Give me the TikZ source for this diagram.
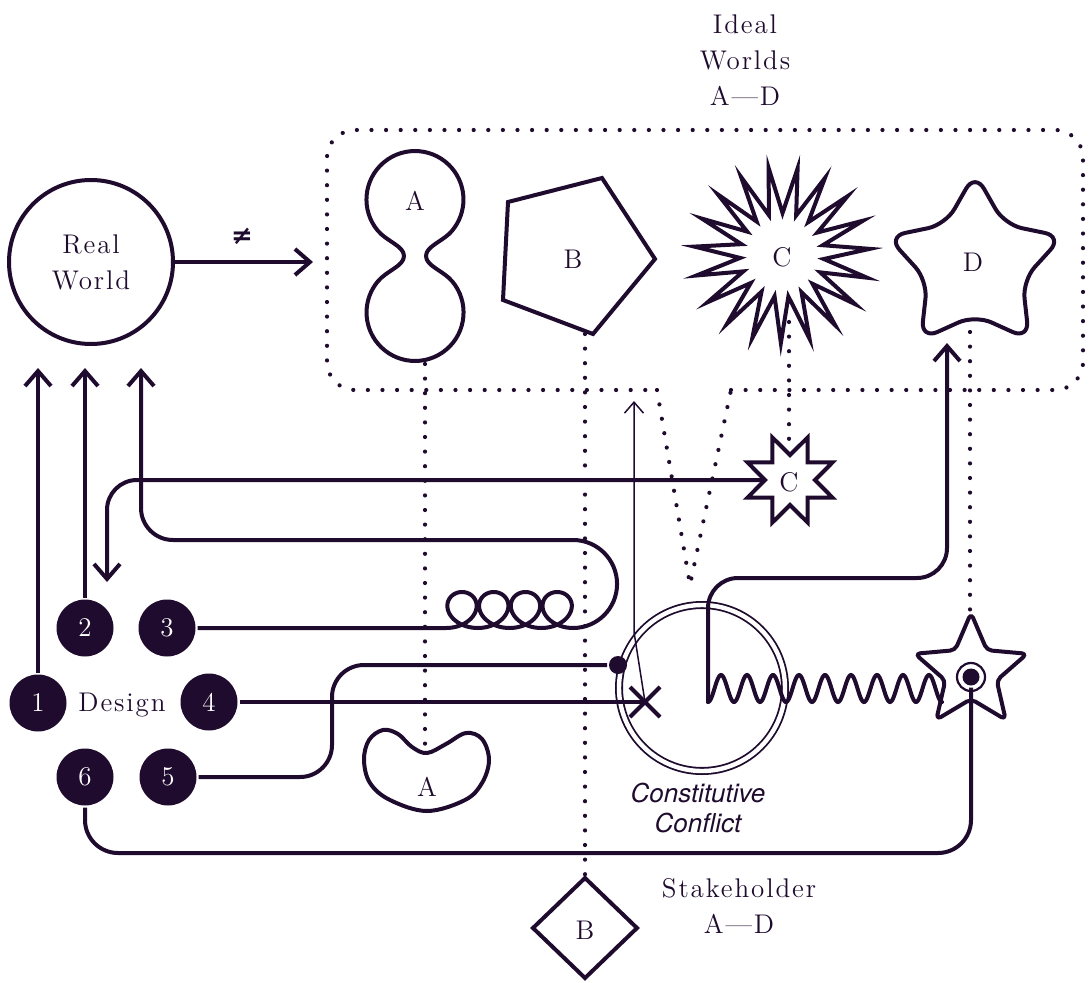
\documentclass[tikz,border=0pt]{standalone}
\usepackage{fontspec}
\usetikzlibrary{arrows.meta}
\definecolor{ink}{HTML}{1E0B2D}
\newfontfamily\herosfont{TeX Gyre Heros}
\newfontfamily\symbfont{DejaVu Sans}
\newfontfamily\spacedfont{lmroman12-regular.otf}[LetterSpace=7]
\newfontfamily\plainfont{lmroman12-regular.otf}
\newcommand\wordfont{\spacedfont\fontsize{27}{36}\selectfont}
\newcommand\letterfont{\plainfont\fontsize{27}{36}\selectfont}
\begin{document}
\begin{tikzpicture}[x=1pt, y=-1pt, line width=4pt, ink,
  barb/.style={-{Straight Barb[length=15pt,width=26pt]}},
  thinbarb/.style={-{Straight Barb[length=11pt,width=19pt]}},
  numdot/.style={circle, fill=ink, minimum size=57pt, inner sep=0pt, text=white, font=\letterfont},
  lbl/.style={text=ink, font=\letterfont, inner sep=0pt},
  words/.style={text=ink, font=\wordfont, align=center, inner sep=0pt},
  dotline/.style={line width=4.2pt, line cap=round, dash pattern=on 0pt off 14.6pt},
  blob/.style={line width=4pt, line join=round},
  spiky/.style={line width=4pt, line join=miter, miter limit=12}]
\useasboundingbox (0,0) rectangle (1089,982);

% ---------- speech-bubble frame of the ideal worlds ----------
\draw[dotline, rounded corners=28pt] (731,390) -- (1083,390) -- (1083,130)
  -- (327,130) -- (327,390) -- (657,390);
\draw[dotline] (657,390) -- (690,585) -- (731,390);

% ---------- dotted links between ideal and stakeholder shapes ----------
\coordinate (pAb) at (425,364);  \coordinate (kA)  at (425,747);
\coordinate (pBb) at (585,334);  \coordinate (dB)  at (585,876);
\coordinate (sCb) at (789,322);  \coordinate (sCt) at (789,450);
\coordinate (sDb) at (970,332);  \coordinate (sDt) at (970,611);
\draw[dotline] (pAb) -- (kA);
\draw[dotline] (pBb) -- (dB);
\draw[dotline] (sCb) -- (sCt);
\draw[dotline] (sDb) -- (sDt);

% ---------- ideal world A: peanut (two round lobes and a waist) ----------
\draw[blob] (452.2,230.7) .. controls (443.2,241.4) and (426,246) .. (426,256)
  .. controls (426,266) and (443.2,270.6) .. (452.2,281.3)
  arc[start angle=-40, end angle=220, radius=48.5]
  .. controls (386.8,270.6) and (404,266) .. (404,256)
  .. controls (404,246) and (386.8,241.4) .. (377.8,230.7)
  arc[start angle=140, end angle=400, radius=48.5] -- cycle;
\node[lbl] (lA) at (415,201) {A};

% ---------- ideal world B: pentagon ----------
\draw[spiky] (508,202) -- (602,178) -- (655,259) -- (593,334) -- (503,300) -- cycle;
\node[lbl] (lB) at (573,259) {B};

% ---------- ideal world C: starburst ----------
\draw[spiky] ({782+88*cos(4)},{255-88*sin(4)})
  \foreach \i in {0,...,17} {
    -- ({782+42*cos(4+(\i+0.5)*360/19)},{255-42*sin(4+(\i+0.5)*360/19)})
    -- ({782+88*cos(4+(\i+1)*360/19)},{255-88*sin(4+(\i+1)*360/19)}) }
  -- ({782+42*cos(4+18.5*360/19)},{255-42*sin(4+18.5*360/19)}) -- cycle;
\node[lbl] (lC) at (782,257) {C};

% ---------- ideal world D: soft star ----------
\draw[blob, rounded corners=18pt] ({975+92*cos(90)},{265-92*sin(90)})
  \foreach \k in {0,...,3} {
    -- ({975+50*cos(126+72*\k)},{265-50*sin(126+72*\k)})
    -- ({975+92*cos(162+72*\k)},{265-92*sin(162+72*\k)}) }
  -- ({975+50*cos(414)},{265-50*sin(414)}) -- cycle;
\node[lbl] (lD) at (973,262) {D};

% ---------- stakeholder A: kidney ----------
\draw[blob] plot[smooth cycle, tension=0.6] coordinates {
  (427,753) (446,744) (466,733) (482,739) (489,760) (482,783) (465,800)
  (427,811) (390,800) (370,783) (364,760) (369,740) (383,730) (398,734)
  (412,747)};
\node[lbl] (lA2) at (427,787) {A};

% ---------- stakeholder B: diamond ----------
\draw[spiky] (585,878) -- (637,928) -- (585,978) -- (533,928) -- cycle;
\node[lbl] (lB2) at (585,930) {B};

% ---------- stakeholder C: eight-point star ----------
\draw[spiky] ({790+46*cos(22.5)},{480-46*sin(22.5)})
  \foreach \k in {0,...,6} {
    -- ({790+25*cos(45+45*\k)},{480-25*sin(45+45*\k)})
    -- ({790+46*cos(67.5+45*\k)},{480-46*sin(67.5+45*\k)}) }
  -- ({790+25*cos(360)},{480-25*sin(360)}) -- cycle;
\node[lbl] (lC2) at (789,482) {C};

% ---------- stakeholder D: star with target ----------
\draw[blob, rounded corners=5pt] ({971+59*cos(90)},{672-59*sin(90)})
  \foreach \k in {0,...,3} {
    -- ({971+27*cos(126+72*\k)},{672-27*sin(126+72*\k)})
    -- ({971+59*cos(162+72*\k)},{672-59*sin(162+72*\k)}) }
  -- ({971+27*cos(414)},{672-27*sin(414)}) -- cycle;
\node[circle, fill=ink, inner sep=0pt, minimum size=17pt] (tgt) at (971,677) {};
\draw[line width=2.2pt] (tgt) circle[radius=14];

% ---------- constitutive conflict ----------
\node[circle, draw=ink, double=white, line width=1.8pt, double distance=4.4pt,
      minimum size=166pt, inner sep=0pt] (cc) at (702,688) {};
\node[text=ink, font={\herosfont\itshape\fontsize{26}{30}\selectfont},
      align=center, inner sep=0pt] (cctext) at (698,808) {Constitutive\\Conflict};

% ---------- real world ----------
\node[circle, draw=ink, minimum size=164pt, inner sep=0pt, words] (real) at (91,262) {Real\\World};
\coordinate (boxL) at (313,262);
\draw[barb] (real) -- (boxL);
\node[text=ink, inner sep=0pt, font={\symbfont\bfseries\fontsize{26}{26}\selectfont}] (neq) at (242,236) {≠};

% ---------- titles ----------
\node[words] (ideal) at (745,60) {Ideal\\Worlds\\A—D};
\node[words] (stake) at (739,906) {Stakeholder\\A—D};

% ---------- design moves ----------
\node[numdot] (n1) at (38,703) {1};
\node[numdot] (n2) at (85,628) {2};
\node[numdot] (n3) at (167,628) {3};
\node[numdot] (n4) at (209,702) {4};
\node[numdot] (n5) at (168,777) {5};
\node[numdot] (n6) at (85,777) {6};
\node[words, anchor=base] (design) at (122,711) {Design};

\coordinate (rw1) at (38,368);
\coordinate (rw2) at (85,368);
\coordinate (rw3) at (141,368);
\draw[barb] (n1) -- (rw1);
\draw[barb] (n2) -- (rw2);

% move 3: coil, U-turn and back to the real world
\draw[barb] (n3.east) -- plot[domain=-180:1260, samples=241, variable=\t]
  ({462+0.088139*\t-22*sin(\t)}, {628-18*(1+cos(\t))})
  arc[start angle=90, end angle=-90, radius=44]
  [rounded corners=32pt] -- (141,540) -- (rw3);

% move 4: struck out at the conflict
\coordinate (xm) at (645,702);
\draw (n4) -- (xm);
\draw (630,687) -- (660,717) (660,687) -- (630,717);
\coordinate (ccTip) at (634,401);
\draw[line width=1.5pt, thinbarb] (xm) -- (634,632) -- (ccTip);

% move 5: lands on the conflict's rim
\node[circle, fill=ink, inner sep=0pt, minimum size=18pt] (dot5) at (618,665) {};
\draw[rounded corners=32pt] (n5) -- (332,777) -- (332,665) -- (dot5);

% move 6: to the target of stakeholder D
\draw[rounded corners=33pt] (n6) -- (85,853) -- (971,853) -- (tgt);

% stakeholder C back towards move 2
\coordinate (cW) at (765,480);
\coordinate (cDown) at (107,582);
\draw[barb, rounded corners=30pt] (cW) -- (107,480) -- (cDown);

% wave from stakeholder D through the conflict up to ideal world D
\coordinate (dS) at (947,343);
\draw[line cap=round] plot[domain=942:708, samples=240]
  (\x, {688.5+13.5*cos(13.84615*(\x-708))});
\draw[barb, rounded corners=30pt, line cap=round] (708,702) -- (708,578) -- (947,578) -- (dS);
\end{tikzpicture}
\end{document}
